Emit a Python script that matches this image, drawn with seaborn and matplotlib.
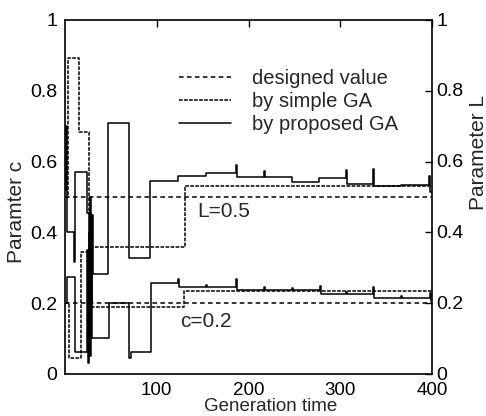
import matplotlib
matplotlib.use("Agg")
import matplotlib.pyplot as plt
import matplotlib.transforms as mtransforms
import seaborn as sns
import pandas as pd

# ---- data ----
designed_gen = [0, 400]
designed_L = [0.5, 0.5]
designed_c = [0.2, 0.2]

simple_L_gen = [0, 3, 15, 26, 28, 131, 400]
simple_L = [0.50, 0.893, 0.685, 0.456, 0.358, 0.532, 0.532]

simple_c_gen = [0, 4, 17, 27, 130, 400]
simple_c = [0.20, 0.045, 0.346, 0.189, 0.234, 0.234]

prop_L_gen = [0, 1, 2, 10, 11, 24, 26, 27, 28, 29, 30, 47, 70, 93, 123, 154,
              186, 187, 217, 218, 247, 277, 306, 307, 336, 337, 366, 397, 398, 400]
prop_L = [0.52, 0.70, 0.40, 0.315, 0.572, 0.456, 0.30, 0.50, 0.20, 0.45, 0.282,
          0.710, 0.327, 0.546, 0.558, 0.569, 0.589, 0.557, 0.573, 0.557, 0.541,
          0.554, 0.575, 0.538, 0.579, 0.530, 0.535, 0.560, 0.515, 0.515]

prop_c_gen = [0, 2, 11, 24, 25, 26, 27, 28, 29, 48, 70, 72, 94, 123, 124, 154,
              155, 186, 187, 217, 218, 247, 248, 278, 279, 306, 307, 336, 337,
              366, 367, 398, 399, 400]
prop_c = [0.20, 0.273, 0.062, 0.35, 0.03, 0.40, 0.05, 0.30, 0.101, 0.200, 0.045,
          0.062, 0.256, 0.268, 0.245, 0.252, 0.245, 0.268, 0.237, 0.245, 0.237,
          0.243, 0.237, 0.248, 0.225, 0.232, 0.225, 0.245, 0.214, 0.220, 0.214,
          0.230, 0.205, 0.205]

x_ticks = [100, 200, 300, 400]
y_ticks = [0, 0.2, 0.4, 0.6, 0.8, 1.0]
y_ticklabels = ["0", "0.2", "0.4", "0.6", "0.8", "1"]
legend_labels = ["designed value", "by simple GA", "by proposed GA"]

sns.set_style("white")
plt.rcParams["font.family"] = ["Liberation Sans", "DejaVu Sans"]

fig = plt.figure(figsize=(4.86, 4.16), dpi=100)
ax = fig.add_axes([65 / 486, 1 - 374 / 416, 367 / 486, 354 / 416])

lw = 1.1
designed_dash = (3.0, 2.2)
simple_dash = (2.4, 0.9)


def step(xs, ys, dashes=None):
    df = pd.DataFrame({"g": xs, "v": ys})
    sns.lineplot(data=df, x="g", y="v", ax=ax, color="black", lw=lw,
                 drawstyle="steps-post", estimator=None, sort=False,
                 legend=False)
    line = ax.lines[-1]
    if dashes is not None:
        line.set_dashes(dashes)
    return line


h1 = step(designed_gen, designed_L, designed_dash)
step(designed_gen, designed_c, designed_dash)
h2 = step(simple_L_gen, simple_L, simple_dash)
step(simple_c_gen, simple_c, simple_dash)
h3 = step(prop_L_gen, prop_L)
step(prop_c_gen, prop_c)

ax.set_xlim(0, 400)
ax.set_ylim(0, 1)
ax.set_xticks(x_ticks)
ax.set_xticklabels([str(t) for t in x_ticks])
ax.set_yticks(y_ticks)
ax.set_yticklabels(y_ticklabels)
ax.set_xlabel("")
ax.set_ylabel("")
for s in ax.spines.values():
    s.set_visible(True)
    s.set_linewidth(1.2)
    s.set_color("black")
ax.tick_params(axis="both", direction="in", length=5, width=1.0, colors="black",
               labelsize=14, top=True, right=True, labelright=True)
ax.tick_params(axis="x", labelsize=13.5, pad=6)
ax.tick_params(axis="y", pad=5.5)

# right-hand labels sit a little closer to the spine
shift = mtransforms.ScaledTranslation(-3 / 100, 1 / 100, fig.dpi_scale_trans)
for t in ax.yaxis.get_major_ticks():
    t.label2.set_transform(t.label2.get_transform() + shift)

ax.legend([h1, h2, h3], legend_labels,
          loc="upper left", bbox_to_anchor=(0.29, 0.885), frameon=False,
          fontsize=14.5, handlelength=2.55, handletextpad=1.05,
          labelspacing=0.2, borderaxespad=0)

ax.text(144, 0.459, "L=0.5", fontsize=15, ha="left", va="center")
ax.text(125, 0.149, "c=0.2", fontsize=15, ha="left", va="center")

fig.text(17 / 486, 1 - 212 / 416, "Paramter c", rotation=90, fontsize=15,
         ha="center", va="center")
fig.text(478 / 486, 1 - 152 / 416, "Parameter L", rotation=90, fontsize=15,
         ha="center", va="center")
fig.text(271 / 486, 1 - 406.5 / 416, "Generation time", fontsize=13.5,
         ha="center", va="center")

fig.savefig("out.png", dpi=100, facecolor="white")
